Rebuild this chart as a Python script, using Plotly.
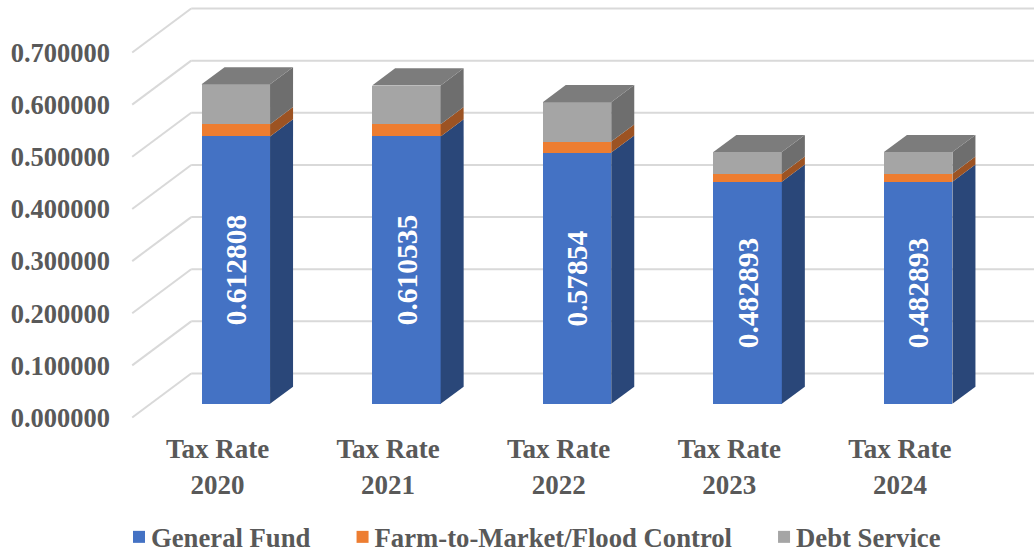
import plotly.graph_objects as go

years = ["2020", "2021", "2022", "2023", "2024"]
tick_labels = ["Tax Rate<br>" + y for y in years]
general_fund = [0.513, 0.513, 0.482, 0.426, 0.426]
farm_to_market = [0.0235, 0.0235, 0.021, 0.0155, 0.0155]
debt_service = [0.076308, 0.074035, 0.07554, 0.041393, 0.041393]
labels = ["0.612808", "0.610535", "0.57854", "0.482893", "0.482893"]
y_ticks = [0.0, 0.1, 0.2, 0.3, 0.4, 0.5, 0.6, 0.7]

W, H = 1034, 552
PX_PER_CAT, X0_PX = 170.6, 217.5
PX_PER_UNIT, Y0_PX = 521.4, 417.5
PLOT_L, PLOT_B = 111, 423
x_range = [(PLOT_L - X0_PX) / PX_PER_CAT, (W - X0_PX) / PX_PER_CAT]
y_range = [(Y0_PX - PLOT_B) / PX_PER_UNIT, Y0_PX / PX_PER_UNIT]

# oblique projection: full floor depth in axis units
DX, DY = 59 / PX_PER_CAT, 44 / PX_PER_UNIT
BAR_D0, BAR_D1 = 0.31, 0.70
BAR_W = 68.5 / PX_PER_CAT
FONT = "Liberation Serif"
TXT = "#595959"
GRID = "#D9D9D9"

xs = list(range(len(years)))
front_x = [i + BAR_D0 * DX for i in xs]
floor = BAR_D0 * DY

fig = go.Figure()
series = [
    ("General Fund", general_fund, "#4472C4", "#2A4779"),
    ("Farm-to-Market/Flood Control", farm_to_market, "#ED7D31", "#9C5323"),
    ("Debt Service", debt_service, "#A5A5A5", "#6E6E6E"),
]
running = [floor] * len(xs)
for k, (name, vals, col, _) in enumerate(series):
    kw = {}
    if k == 0:
        kw = dict(text=labels, textposition="inside",
                  insidetextanchor="middle", textangle=-90, constraintext="none",
                  insidetextfont=dict(family=FONT, size=29.5, color="white", weight="bold"))
    fig.add_bar(x=front_x, y=vals, base=list(running), name=name, width=BAR_W,
                marker=dict(color=col, line_width=0), hoverinfo="skip", **kw)
    running = [r + v for r, v in zip(running, vals)]

sdx, sdy = (BAR_D1 - BAR_D0) * DX, (BAR_D1 - BAR_D0) * DY
for j, fx in enumerate(front_x):
    x1 = fx + BAR_W / 2
    x0 = fx - BAR_W / 2
    bottom = floor
    for name, vals, col, side in series:
        top = bottom + vals[j]
        fig.add_scatter(x=[x1, x1 + sdx, x1 + sdx, x1, x1], y=[bottom, bottom + sdy, top + sdy, top, bottom],
                        mode="lines", fill="toself", fillcolor=side, line=dict(width=0),
                        showlegend=False, hoverinfo="skip")
        bottom = top
    fig.add_scatter(x=[x0, x1, x1 + sdx, x0 + sdx, x0], y=[bottom, bottom, bottom + sdy, bottom + sdy, bottom],
                    mode="lines", fill="toself", fillcolor="#7C7C7C", line=dict(width=0),
                    showlegend=False, hoverinfo="skip")

shapes = []
for v in y_ticks:
    shapes.append(dict(type="line", xref="x", yref="y", layer="below", x0=-0.5, y0=v, x1=-0.5 + DX, y1=v + DY,
                       line=dict(color=GRID, width=2)))
    shapes.append(dict(type="line", xref="x", yref="y", layer="below", x0=-0.5 + DX, y0=v + DY, x1=x_range[1], y1=v + DY,
                       line=dict(color=GRID, width=2)))

fig.update_layout(
    width=W, height=H, autosize=False, barmode="overlay", bargap=0,
    paper_bgcolor="white", plot_bgcolor="white",
    margin=dict(l=PLOT_L, r=0, t=0, b=H - PLOT_B, autoexpand=False),
    shapes=shapes,
    font=dict(family=FONT, color=TXT, size=26, weight="bold"),
    showlegend=True,
    legend=dict(orientation="h", x=119 / W, xanchor="left", xref="container", y=15 / H, yref="container",
                yanchor="middle", font=dict(family=FONT, size=26.7, color=TXT, weight="bold"),
                bgcolor="rgba(0,0,0,0)", itemclick=False, itemdoubleclick=False, traceorder="normal"),
    xaxis=dict(range=x_range, tickmode="array", tickvals=xs, ticktext=tick_labels, showgrid=False, zeroline=False,
               showline=False, ticks="outside", ticklen=2, tickcolor="rgba(0,0,0,0)",
               tickfont=dict(family=FONT, size=27, color=TXT, weight="bold")),
    yaxis=dict(range=y_range, tickmode="array", tickvals=y_ticks, tickformat=".6f", showgrid=False, zeroline=False,
               showline=False, ticks="", 
               tickfont=dict(family=FONT, size=26.5, color=TXT, weight="bold")),
)
post = """
document.body.style.margin = '0';
document.querySelectorAll('.legend .scrollbox').forEach(function (g) { g.removeAttribute('clip-path'); });
document.querySelectorAll('.legend .traces').forEach(function (g, i) {
  var m = /translate\\(([-\\d.]+),\\s*([-\\d.]+)\\)/.exec(g.getAttribute('transform'));
  g.setAttribute('transform', 'translate(' + (parseFloat(m[1]) + 19 * i) + ',' + m[2] + ')');
  var t = g.querySelector('.legendtext');
  t.setAttribute('x', parseFloat(t.getAttribute('x')) - 8);
});
"""
fig.write_html("out.html", post_script=post, config={"displayModeBar": False})
